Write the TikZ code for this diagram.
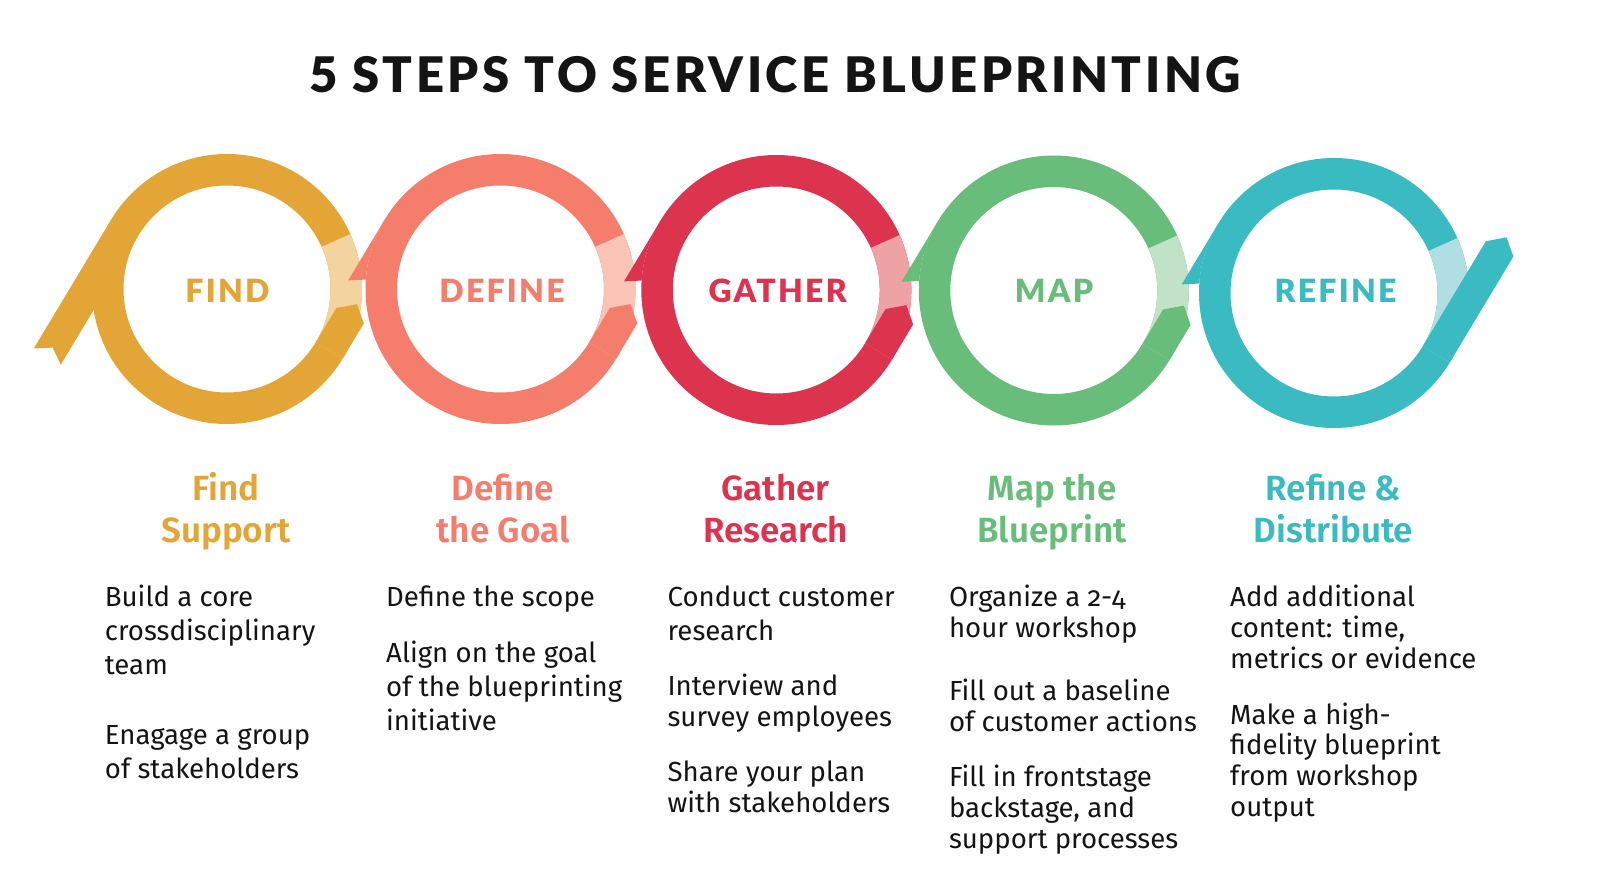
\documentclass[tikz,border=0pt]{standalone}
\usepackage{fontspec}
\setmainfont{Fira Sans}[Numbers=OldStyle]
\newfontfamily\headfont{Fira Sans SemiBold}
\newfontfamily\titlefont{Lato Black}[LetterSpace=7.2]
\newfontfamily\labelfont{Lato Black}[LetterSpace=7]
\usetikzlibrary{calc}
\definecolor{findD}{HTML}{E3A535}\definecolor{findL}{HTML}{F3D49F}
\definecolor{defD}{HTML}{F47E6B}\definecolor{defL}{HTML}{F9C3B6}
\definecolor{gathD}{HTML}{DC334E}\definecolor{gathL}{HTML}{EFA2A4}
\definecolor{mapD}{HTML}{68BD7A}\definecolor{mapL}{HTML}{C1E2C7}
\definecolor{refD}{HTML}{3ABBC1}\definecolor{refL}{HTML}{B0DEE2}
\definecolor{ink}{HTML}{141414}
% ring: #1 centre, #2 dark, #3 light
\newcommand\myring[3]{%
  \fill[#2,even odd rule] (#1) circle[radius=135] (#1) circle[radius=103.5];
  \fill[#3] ($(#1)+(24:135)$) arc[start angle=24,end angle=-31,radius=135]
     -- ($(#1)+(-31:103.5)$) arc[start angle=-31,end angle=24,radius=103.5] -- cycle;}
% lower right band: #1 centre, #2 colour, #3 inner length, #4 tip length, #5 outer length
\newcommand\myband[5]{%
  \fill[#2] ($(#1)+(-31:103.5)$) -- ($(#1)+(-31:103.5)+(59:#3)$)
     -- ($(#1)+(-31:119.25)+(59:#4)$) -- ($(#1)+(-31:135)+(59:#5)$)
     -- ($(#1)+(-31:135)$) -- cycle;}
% arrow head on the left: #1 centre, #2 colour
\newcommand\myhead[2]{%
  \fill[#2] ($(#1)+(149:135)$) -- ($(#1)+(149:135)+(239:71)$)
     -- ($(#1)+(176:135)$) arc[start angle=176,end angle=149,radius=135] -- cycle;}
\tikzset{
  lbl/.style={font=\labelfont\fontsize{32}{36}\selectfont, inner sep=0},
  head/.style={font=\headfont\fontsize{35}{42}\selectfont, anchor=base, inner sep=0},
  body/.style={font=\fontsize{27.6}{32}\selectfont, anchor=base west, inner sep=0, text=ink},
}
\begin{document}
\begin{tikzpicture}[x=1pt,y=1pt]
\fill[white] (0,0) rectangle (1610,-888);
\useasboundingbox (0,0) rectangle (1610,-888);
\coordinate (c1) at (227,-289);
\coordinate (c2) at (500.5,-289);
\coordinate (c3) at (776.3,-290);
\coordinate (c4) at (1053.8,-290.5);
\coordinate (c5) at (1334,-293);
% title
\node[font=\titlefont\fontsize{49}{56}\selectfont, text=ink, anchor=base, inner sep=0]
  (title) at (775,-92.4) {5 STEPS TO SERVICE BLUEPRINTING};
% ring 1 with tail
\myring{c1}{findD}{findL}
\fill[findD] ($(c1)+(149:135)$) -- ($(c1)+(149:135)+(239:150.5)$)
   -- ($(c1)+(149:119.25)+(239:140)$) -- ($(c1)+(149:103.5)+(239:150.5)$)
   -- ($(c1)+(149:103.5)$) -- cycle;
\myband{c1}{findD}{40}{54}{41}
% ring 2
\myring{c2}{defD}{defL}
\myband{c2}{defD}{40}{54}{41}
\myhead{c2}{defD}
% ring 3
\myring{c3}{gathD}{gathL}
\myband{c3}{gathD}{40}{54}{41}
\myhead{c3}{gathD}
% ring 4
\myring{c4}{mapD}{mapL}
\myband{c4}{mapD}{40}{54}{41}
\myhead{c4}{mapD}
% ring 5
\myring{c5}{refD}{refL}
\myband{c5}{refD}{122.6}{136.6}{123.6}
\myhead{c5}{refD}
% ring labels
\node[lbl, text=findD] (lfind) at ($(c1)+(0.5,-2)$) {FIND};
\node[lbl, text=defD] (ldef) at ($(c2)+(1.5,-2)$) {DEFINE};
\node[lbl, text=gathD] (lgath) at ($(c3)+(1.4,-1)$) {GATHER};
\node[lbl, text=mapD] (lmap) at ($(c4)+(0.2,-0.5)$) {MAP};
\node[lbl, text=refD] (lref) at ($(c5)+(1.5,2)$) {REFINE};
% headings
\node[head, text=findD] (h1a) at (226,-500) {Find};
\node[head, text=findD] (h1b) at (226,-542) {Support};
\node[head, text=defD] (h2a) at (503,-500) {Define};
\node[head, text=defD] (h2b) at (503,-542) {the Goal};
\node[head, text=gathD] (h3a) at (775.5,-500) {Gather};
\node[head, text=gathD] (h3b) at (775.5,-542) {Research};
\node[head, text=mapD] (h4a) at (1052,-500) {Map the};
\node[head, text=mapD] (h4b) at (1052,-542) {Blueprint};
\node[head, text=refD] (h5a) at (1333.5,-500) {Refine \&};
\node[head, text=refD] (h5b) at (1333.5,-542) {Distribute};
% column 1
\node[body] (f1) at (104.7,-606.8) {Build a core};
\node[body] (f2) at (104.7,-640.7) {crossdisciplinary};
\node[body] (f3) at (104.7,-674.6) {team};
\node[body] (f4) at (104.7,-744.4) {Enagage a group};
\node[body] (f5) at (104.7,-778.3) {of stakeholders};
% column 2
\node[body] (d1) at (386,-606.8) {Define the scope};
\node[body] (d2) at (386,-662.3) {Align on the goal};
\node[body] (d3) at (386,-696.2) {of the blueprinting};
\node[body] (d4) at (386,-730) {initiative};
% column 3
\node[body] (g1) at (667.4,-606.8) {Conduct customer};
\node[body] (g2) at (667.4,-640.7) {research};
\node[body] (g3) at (667.4,-695) {Interview and};
\node[body] (g4) at (667.4,-726) {survey employees};
\node[body] (g5) at (667.4,-781.4) {Share your plan};
\node[body] (g6) at (667.4,-812.2) {with stakeholders};
% column 4
\node[body] (m1) at (948.8,-606.8) {Organize a 2-4};
\node[body] (m2) at (948.8,-637.6) {hour workshop};
\node[body] (m3) at (948.8,-700.3) {Fill out a baseline};
\node[body] (m4) at (948.8,-731) {of customer actions};
\node[body] (m5) at (948.8,-786.5) {Fill in frontstage};
\node[body] (m6) at (948.8,-817.3) {backstage, and};
\node[body] (m7) at (948.8,-848) {support processes};
% column 5
\node[body] (r1) at (1230,-606.8) {Add additional};
\node[body] (r2) at (1230,-637.6) {content: time,};
\node[body] (r3) at (1230,-668.4) {metrics or evidence};
\node[body] (r4) at (1230,-724) {Make a high-};
\node[body] (r5) at (1230,-754.7) {fidelity blueprint};
\node[body] (r6) at (1230,-785.5) {from workshop};
\node[body] (r7) at (1230,-816.3) {output};
\end{tikzpicture}
\end{document}
